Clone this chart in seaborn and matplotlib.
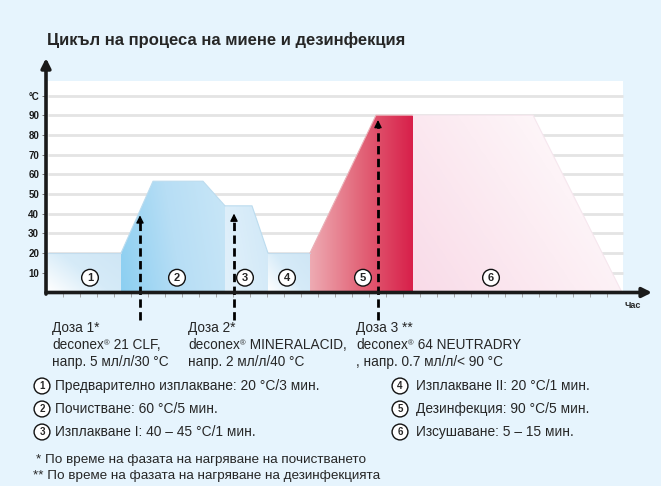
## arrays and tables
import numpy as np
import pandas as pd
## visualisation
import matplotlib
matplotlib.use('Agg')
from matplotlib import pyplot as plt
from matplotlib.colors import LinearSegmentedColormap
from matplotlib.patches import Polygon
import seaborn as sns

## phase profiles (time in arbitrary units, temperature in °C)
t1 = [0.2, 7.5]
c1 = [20, 20]
t2 = [7.5, 10.7, 15.7, 17.9]
c2 = [20, 56.5, 56.5, 44]
t3 = [17.9, 20.6, 22.2]
c3 = [44, 44, 20]
t4 = [22.2, 26.4]
c4 = [20, 20]
t5 = [26.4, 33.0, 36.7]
c5 = [20, 90, 90]
t6 = [36.7, 48.7, 57.6]
c6 = [90, 90, 0]

phase_nums = ['1', '2', '3', '4', '5', '6']
phase_label_x = [4.4, 13.1, 19.9, 24.1, 31.7, 44.5]

dose_x = [9.4, 18.8, 33.2]
dose_top = [40.6, 41.5, 89.0]

ytick_vals = [10, 20, 30, 40, 50, 60, 70, 80, 90, 100]
ytick_labels = ['10', '20', '30', '40', '50', '60', '70', '80', '90', '°C']

title = 'Цикъл на процеса на миене и дезинфекция'
dose_names = ['Доза 1*', 'Доза 2*', 'Доза 3 **']
dose_products = [' 21 CLF,', ' MINERALACID,', ' 64 NEUTRADRY']
dose_conc = ['напр. 5 мл/л/30 °C', 'напр. 2 мл/л/40 °C', ', напр. 0.7 мл/л/< 90 °C']
legend_left = ['Предварително изплакване: 20 °C/3 мин.',
               'Почистване: 60 °C/5 мин.',
               'Изплакване I: 40 – 45 °C/1 мин.']
legend_right = ['Изплакване II: 20 °C/1 мин.',
                'Дезинфекция: 90 °C/5 мин.',
                'Изсушаване: 5 – 15 мин.']
footnotes = ['* По време на фазата на нагряване на почистването',
             '** По време на фазата на нагряване на дезинфекцията']

sns.set_theme(style='white')
plt.rcParams['font.family'] = ['Liberation Sans', 'DejaVu Sans']

BG = '#e6f4fd'
W, H = 661, 486
fig = plt.figure(figsize=(W / 100, H / 100), dpi=100, facecolor=BG)
ax = fig.add_axes([46 / W, (H - 292.5) / H, 606 / W, 234.4 / H])
ax.set_facecolor('none')
XMAX, YMAX = 60.6, 119


def gradient_fill(ax, xs, ys, cols, angle):
    verts = list(zip(xs, ys)) + [(xs[-1], 0), (xs[0], 0)]
    poly = Polygon(verts, closed=True, fc='none', ec='none')
    ax.add_patch(poly)
    gx, gy = np.meshgrid(np.linspace(0, 1, 80), np.linspace(0, 1, 80))
    a = np.deg2rad(angle)
    g = gx * np.cos(a) + gy * np.sin(a)
    g = (g - g.min()) / (g.max() - g.min())
    cmap = LinearSegmentedColormap.from_list('g', cols)
    im = ax.imshow(g, cmap=cmap, extent=(min(xs), max(xs), 0, max(ys)),
                   origin='lower', aspect='auto', zorder=2,
                   interpolation='bilinear')
    im.set_clip_path(poly)


## white plot area and grid
ax.fill_between([0.2, 57.7], 0, 107.5, color='white', zorder=0, lw=0)
ax.hlines(ytick_vals, 0.2, 57.7, color='#e4e4e4', lw=2, zorder=1)

## phases
gradient_fill(ax, t1, c1, ['#ffffff', '#d6ebf8', '#cfe6f5'], 35)
gradient_fill(ax, t2, c2, ['#8ccff1', '#b7def5', '#c8e6f7'], 10)
gradient_fill(ax, t3, c3, ['#e2f1fb', '#d0e8f7'], 20)
gradient_fill(ax, t4, c4, ['#ffffff', '#d6ebf8', '#cfe6f5'], 35)
gradient_fill(ax, t5, c5, ['#eeaab2', '#e26478', '#d8204a'], 0)
gradient_fill(ax, t6, c6, ['#f9dbe8', '#fcedf3', '#ffffff'], 30)

## faint outlines
for ts, cs, col in [(t1, c1, '#c3dced'), (t2, c2, '#bcdcef'), (t3, c3, '#bcdcef'),
                    (t4, c4, '#c3dced'), (t5, c5, '#eab0b8'), (t6, c6, '#f6e6ee')]:
    d = pd.DataFrame({'t': ts, 'c': cs})
    sns.lineplot(data=d, x='t', y='c', ax=ax, color=col, lw=0.8, zorder=3,
                 sort=False, legend=False)
ax.set_xlabel('')
ax.set_ylabel('')

## phase number circles
for x, n in zip(phase_label_x, phase_nums):
    ax.text(x, 7.5, n, ha='center', va='center', fontsize=8, fontweight='bold',
            zorder=5, bbox=dict(boxstyle='circle,pad=0.3', fc='white', ec='#111', lw=1))

## dose arrows
for x, top in zip(dose_x, dose_top):
    ax.vlines(x, -14, top - 4, color='black', lw=2, linestyles=(0, (3, 1.6)),
              zorder=6, clip_on=False)
    ax.annotate('', xy=(x, top), xytext=(x, top - 4.5),
                arrowprops=dict(arrowstyle='-|>', color='black', lw=1,
                                mutation_scale=11), zorder=6)

## axes with arrows
ax.annotate('', xy=(XMAX, 0), xytext=(0, 0), annotation_clip=False,
            arrowprops=dict(arrowstyle='-|>', color='#1a1a1a', lw=2.6,
                            mutation_scale=14, shrinkA=0, shrinkB=0), zorder=7)
ax.annotate('', xy=(0, YMAX), xytext=(0, -0.8), annotation_clip=False,
            arrowprops=dict(arrowstyle='-|>', color='#1a1a1a', lw=2.6,
                            mutation_scale=14, shrinkA=0, shrinkB=0), zorder=7)

ax.set_xlim(0, XMAX)
ax.set_ylim(0, YMAX)
for s in ax.spines.values():
    s.set_visible(False)
ax.set_yticks(ytick_vals)
ax.set_yticklabels(ytick_labels)
ax.set_xticks([])
ax.set_xticks(np.arange(1.7, 57, 1.7), minor=True)
ax.tick_params(axis='x', which='minor', bottom=True, length=3, width=0.6,
               color='#9a9a9a', direction='out')
ax.tick_params(axis='y', left=True, length=3, width=0.7, color='#777',
               pad=2, labelsize=7, labelcolor='#1a1a1a')
for lab in ax.get_yticklabels():
    lab.set_fontweight('bold')
ax.grid(False)
ax.text(59.5, -6.5, 'Час', ha='right', va='center', fontsize=6.5,
        fontweight='bold', clip_on=False)

## texts in figure pixels
def ftext(x, y, s, **kw):
    return fig.text(x / W, 1 - y / H, s, **kw)


ftext(47, 40, title, fontsize=12, fontweight='bold', va='center', ha='left')

renderer = fig.canvas.get_renderer()
for x, a, b, c in zip([52, 188, 356], dose_names, dose_products, dose_conc):
    ftext(x, 332, a, fontsize=9.8, va='baseline', ha='left')
    ftext(x, 366, c, fontsize=9.8, va='baseline', ha='left')
    # "deconex" + small superscript ® + product name
    t = ftext(x, 349, 'deconex', fontsize=9.8, va='baseline', ha='left')
    x2 = x + t.get_window_extent(renderer).width + 0.5
    r = ftext(x2, 345, '®', fontsize=5.5, va='baseline', ha='left')
    x3 = x2 + r.get_window_extent(renderer).width
    ftext(x3, 349, b, fontsize=9.8, va='baseline', ha='left')

for i, s in enumerate(legend_left):
    y = 386 + 23 * i
    ftext(42, y, str(i + 1), fontsize=7, fontweight='bold', ha='center', va='center',
          bbox=dict(boxstyle='circle,pad=0.3', fc='white', ec='#111', lw=1))
    ftext(55, y, s, fontsize=9.9, va='center', ha='left')
for i, s in enumerate(legend_right):
    y = 386 + 23 * i
    ftext(400, y, str(i + 4), fontsize=7, fontweight='bold', ha='center', va='center',
          bbox=dict(boxstyle='circle,pad=0.3', fc='white', ec='#111', lw=1))
    ftext(416, y, s, fontsize=9.9, va='center', ha='left')

ftext(36, 460, footnotes[0], fontsize=9.7, va='center', ha='left')
ftext(33, 476, footnotes[1], fontsize=9.7, va='center', ha='left')

fig.savefig('out.png', dpi=100, facecolor=BG)
